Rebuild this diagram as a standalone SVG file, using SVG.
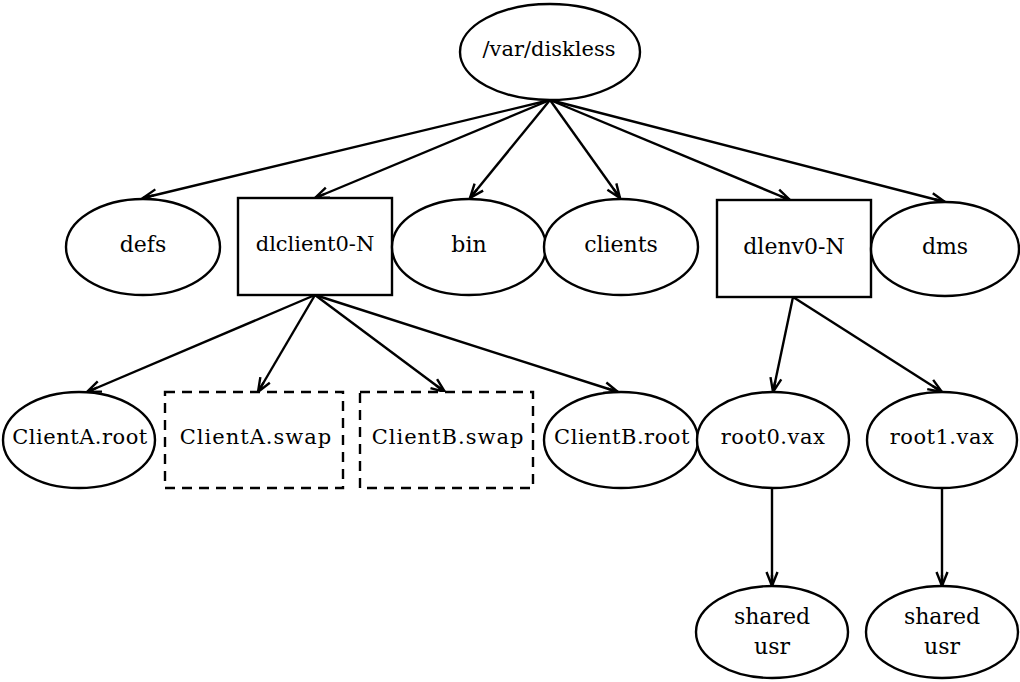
<svg xmlns="http://www.w3.org/2000/svg" width="1020" height="682" viewBox="0 0 1020 682">
<defs>
<marker id="arr" markerUnits="userSpaceOnUse" viewBox="-16 -8 18 16" refX="0" refY="0" markerWidth="18" markerHeight="16" orient="auto">
<path d="M-14,-5.5 L0,0 L-14,5.5 M-11,0 L0,0" fill="none" stroke="#000" stroke-width="2.4"/>
</marker>
<style>
.n{fill:#fff;stroke:#000;stroke-width:2.4}
.d{fill:#fff;stroke:#000;stroke-width:2.4;stroke-dasharray:10 7}
.t{font-family:"DejaVu Serif","Liberation Serif",serif;font-size:21px;fill:#000;text-anchor:middle;dominant-baseline:central}
.b{font-size:22px}
.e{fill:none;stroke:#000;stroke-width:2.4;marker-end:url(#arr)}
</style>
</defs>
<rect width="1020" height="682" fill="#fff"/>
<g id="connectors">
<line class="e" x1="550" y1="100" x2="143" y2="198"/>
<line class="e" x1="550" y1="100" x2="315" y2="198"/>
<line class="e" x1="550" y1="100" x2="470" y2="198"/>
<line class="e" x1="550" y1="100" x2="620" y2="198"/>
<line class="e" x1="550" y1="100" x2="790" y2="200"/>
<line class="e" x1="550" y1="100" x2="945" y2="202"/>
<line class="e" x1="315" y1="295" x2="87" y2="392"/>
<line class="e" x1="315" y1="295" x2="258" y2="392"/>
<line class="e" x1="315" y1="295" x2="445" y2="392"/>
<line class="e" x1="315" y1="295" x2="618" y2="392"/>
<line class="e" x1="793" y1="297" x2="773" y2="392"/>
<line class="e" x1="793" y1="297" x2="942" y2="392"/>
<line class="e" x1="772" y1="488" x2="772" y2="586"/>
<line class="e" x1="942" y1="488" x2="942" y2="586"/>
</g>
<g id="var-diskless"><ellipse class="n" cx="550" cy="52" rx="90" ry="48"/><text class="t" x="549" y="49">/var/diskless</text></g>
<g id="defs"><ellipse class="n" cx="143" cy="247" rx="77" ry="48"/><text class="t b" x="143" y="244">defs</text></g>
<g id="dlclient"><rect class="n" x="238" y="198" width="154" height="97"/><text class="t" x="315" y="244">dlclient0-N</text></g>
<g id="bin"><ellipse class="n" cx="469" cy="247" rx="77" ry="48"/><text class="t b" x="469" y="244">bin</text></g>
<g id="clients"><ellipse class="n" cx="621" cy="247" rx="77" ry="48"/><text class="t b" x="621" y="244">clients</text></g>
<g id="dlenv"><rect class="n" x="717" y="200" width="154" height="97"/><text class="t b" x="794" y="246">dlenv0-N</text></g>
<g id="dms"><ellipse class="n" cx="945" cy="249" rx="74" ry="47"/><text class="t b" x="945" y="246">dms</text></g>
<g id="clientA-root"><ellipse class="n" cx="79" cy="440" rx="76" ry="48"/><text class="t" x="80" y="437" style="letter-spacing:0.5px">ClientA.root</text></g>
<g id="clientA-swap"><rect class="d" x="165" y="392" width="178" height="96"/><text class="t" x="256" y="437" style="letter-spacing:1px">ClientA.swap</text></g>
<g id="clientB-swap"><rect class="d" x="360" y="392" width="173" height="96"/><text class="t" x="448" y="437" style="letter-spacing:1px">ClientB.swap</text></g>
<g id="clientB-root"><ellipse class="n" cx="621" cy="440" rx="77" ry="48"/><text class="t" x="622" y="437" style="letter-spacing:0.5px">ClientB.root</text></g>
<g id="root0-vax"><ellipse class="n" cx="773" cy="440" rx="76" ry="48"/><text class="t" x="773" y="437" style="letter-spacing:0.5px">root0.vax</text></g>
<g id="root1-vax"><ellipse class="n" cx="942" cy="440" rx="75" ry="48"/><text class="t" x="942" y="437" style="letter-spacing:0.5px">root1.vax</text></g>
<g id="shared-usr-0"><ellipse class="n" cx="772" cy="632" rx="76" ry="46"/><text class="t b" x="772" y="616">shared</text><text class="t b" x="772" y="646">usr</text></g>
<g id="shared-usr-1"><ellipse class="n" cx="942" cy="632" rx="76" ry="46"/><text class="t b" x="942" y="616">shared</text><text class="t b" x="942" y="646">usr</text></g>
</svg>
